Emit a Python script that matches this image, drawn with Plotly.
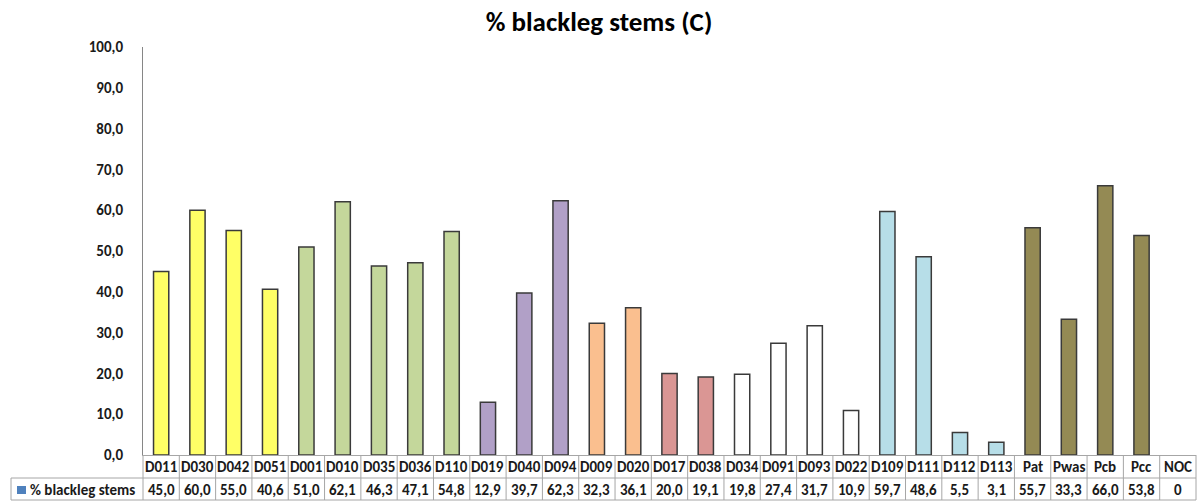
import plotly.graph_objects as go

categories = ["D011", "D030", "D042", "D051", "D001", "D010", "D035", "D036", "D110",
              "D019", "D040", "D094", "D009", "D020", "D017", "D038", "D034", "D091",
              "D093", "D022", "D109", "D111", "D112", "D113", "Pat", "Pwas", "Pcb", "Pcc", "NOC"]
values = [45.0, 60.0, 55.0, 40.6, 51.0, 62.1, 46.3, 47.1, 54.8,
          12.9, 39.7, 62.3, 32.3, 36.1, 20.0, 19.1, 19.8, 27.4,
          31.7, 10.9, 59.7, 48.6, 5.5, 3.1, 55.7, 33.3, 66.0, 53.8, 0]
value_labels = ["45,0", "60,0", "55,0", "40,6", "51,0", "62,1", "46,3", "47,1", "54,8",
                "12,9", "39,7", "62,3", "32,3", "36,1", "20,0", "19,1", "19,8", "27,4",
                "31,7", "10,9", "59,7", "48,6", "5,5", "3,1", "55,7", "33,3", "66,0", "53,8", "0"]
group_sizes = [4, 5, 3, 2, 2, 4, 4, 4, 1]
group_colors = ["#FFFF66", "#C4D79B", "#B1A0C7", "#FABF8F", "#DA9694",
                "#FFFFFF", "#B7DEE8", "#948A54", "#FFFFFF"]
ytick_vals = [0, 10, 20, 30, 40, 50, 60, 70, 80, 90, 100]
ytick_text = ["0,0", "10,0", "20,0", "30,0", "40,0", "50,0", "60,0", "70,0", "80,0", "90,0", "100,0"]
series_name = "% blackleg stems"
title_text = "% blackleg stems (C)"

bar_colors = []
for size, col in zip(group_sizes, group_colors):
    bar_colors += [col] * size
bar_line_widths = [1.5 if v > 0 else 0 for v in values]

FONT = "Carlito, Lato, 'Open Sans', sans-serif"
W, H = 1198, 502
ML, MR, MT, MB = 143, 2, 47, 47
plot_h = H - MT - MB
plot_w = W - ML - MR
n = len(categories)
TXT = 15

fig = go.Figure()
fig.add_trace(go.Bar(
    x=categories, y=values, name=series_name,
    marker=dict(color=bar_colors, line=dict(color="#3a3a3a", width=bar_line_widths)),
    width=0.42, showlegend=False,
))

def py(px):
    return (H - MB - px) / plot_h

def pxx(px):
    return (px - ML) / plot_w

shapes = []
line_col = "#A6A6A6"
top = py(455)
mid = py(478)
bot = py(500)
shapes.append(dict(type="line", xref="paper", yref="paper", x0=0, x1=1, y0=mid, y1=mid,
                   line=dict(color=line_col, width=1)))
shapes.append(dict(type="line", xref="paper", yref="paper", x0=0, x1=1, y0=bot, y1=bot,
                   line=dict(color=line_col, width=1)))
for i in range(n + 1):
    xp = i / n
    shapes.append(dict(type="line", xref="paper", yref="paper", x0=xp, x1=xp, y0=top, y1=bot,
                       line=dict(color=line_col, width=1)))
lx = pxx(11)
shapes.append(dict(type="line", xref="paper", yref="paper", x0=lx, x1=0, y0=mid, y1=mid,
                   line=dict(color=line_col, width=1)))
shapes.append(dict(type="line", xref="paper", yref="paper", x0=lx, x1=0, y0=bot, y1=bot,
                   line=dict(color=line_col, width=1)))
shapes.append(dict(type="line", xref="paper", yref="paper", x0=lx, x1=lx, y0=mid, y1=bot,
                   line=dict(color=line_col, width=1)))
shapes.append(dict(type="rect", xref="paper", yref="paper", x0=pxx(17), x1=pxx(26),
                   y0=py(494), y1=py(486), fillcolor="#4F81BD", line=dict(width=0)))

annotations = []
for i, (c, v) in enumerate(zip(categories, value_labels)):
    xc = (i + 0.5) / n
    annotations.append(dict(x=xc, y=py(467), xref="paper", yref="paper", text="<b>%s</b>" % c,
                            showarrow=False, font=dict(family=FONT, size=TXT, color="#1a1a1a"),
                            xanchor="center", yanchor="middle"))
    annotations.append(dict(x=xc, y=py(490), xref="paper", yref="paper", text="<b>%s</b>" % v,
                            showarrow=False, font=dict(family=FONT, size=TXT, color="#1a1a1a"),
                            xanchor="center", yanchor="middle"))
annotations.append(dict(x=pxx(28), y=py(490), xref="paper", yref="paper",
                        text="<b>%s</b>" % series_name, showarrow=False,
                        font=dict(family=FONT, size=TXT, color="#1a1a1a"),
                        xanchor="left", yanchor="middle"))

fig.update_layout(
    width=W, height=H,
    margin=dict(l=ML, r=MR, t=MT, b=MB),
    paper_bgcolor="white", plot_bgcolor="white",
    title=dict(text="<b>%s</b>" % title_text, x=0.5, xanchor="center", y=1 - 22 / H,
               yanchor="middle", font=dict(family=FONT, size=27, color="#000000")),
    xaxis=dict(showticklabels=False, showline=True, linecolor=line_col, linewidth=1,
               showgrid=False, zeroline=False, ticks="", range=[-0.5, n - 0.5]),
    yaxis=dict(range=[0, 100], tickvals=ytick_vals,
               ticktext=["<b>%s</b>" % t for t in ytick_text],
               showline=True, linecolor="#868686", linewidth=1, showgrid=False,
               zeroline=False, ticks="", ticklabelstandoff=16,
               tickfont=dict(family=FONT, size=TXT, color="#1a1a1a")),
    shapes=shapes, annotations=annotations,
    bargap=0.58,
)

fig.write_html("out.html", config={"displayModeBar": False},
               post_script="document.body.style.margin='0';document.body.style.padding='0';")
